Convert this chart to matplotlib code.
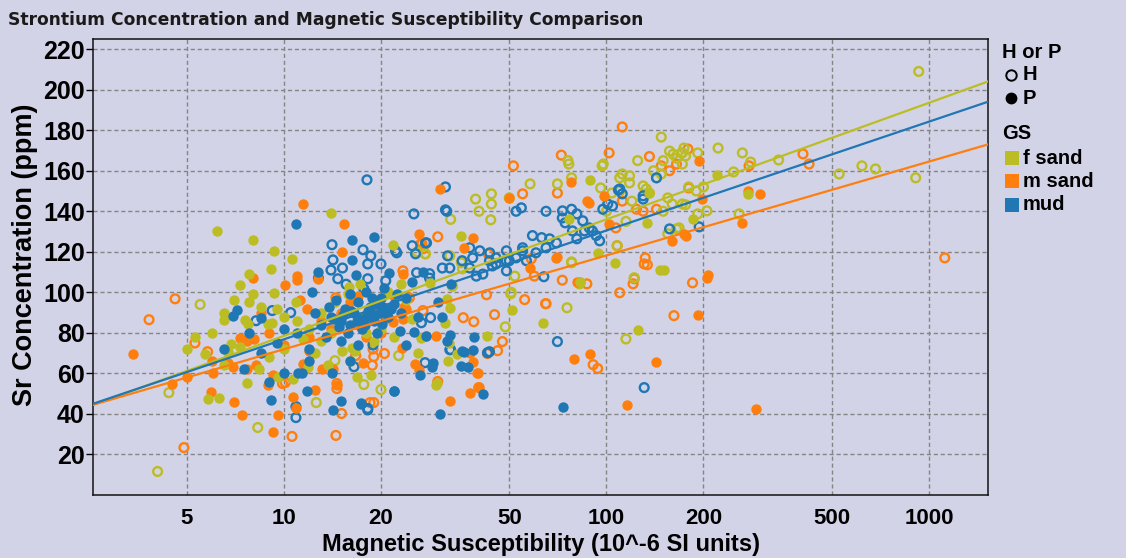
import matplotlib.pyplot as plt
import numpy as np
from matplotlib.lines import Line2D
from matplotlib.ticker import NullLocator

BG = "#d3d3e8"
OLIVE = "#bcbd22"
ORANGE = "#ff7f0e"
BLUE = "#1f77b4"

# --- samples: magnetic susceptibility (10^-6 SI) vs Sr (ppm) ---------------
# mud, P
mud_p_x = [10.9, 16.3, 19.1, 16.3, 16.7, 21.2, 12.2, 7.15, 6.95, 8.5, 9.1, 11.8, 14.2, 15, 17.3,
           21.9, 14.1, 11.1, 11.4, 19.4, 20.2, 20.9, 22.9, 32, 35.7, 38.8, 41.4, 30.4, 35.5, 28.8,
           26.5, 38.5, 17.4, 73.6, 37.3, 36.3, 32.7, 29, 22, 27.5, 25.3,
           14, 15, 15.5, 16, 16.5, 17, 17.5, 18, 18.5, 19, 19.5, 20, 21, 22, 23, 24, 13, 12.5,
           14.5, 16, 18, 13.5, 15, 17, 12, 11, 10, 9.5, 8.5, 7.8, 7.5, 10, 12, 16, 24, 26, 30,
           31, 25, 27, 33, 12.8, 9, 6.5, 14.8, 16.8, 18.8, 20.5, 22.5, 15.8, 13.8,
           15.2, 16.2, 17.2, 18.2, 19.2, 20.3, 21.5, 14.3, 17.8, 19.8]
mud_p_y = [133.8, 126, 127.4, 116, 108.7, 109.7, 100.3, 91.4, 88.5, 87.5, 47, 51.5, 41.7, 46.6, 45,
           51.5, 60.4, 60, 60.4, 94.4, 84.5, 91, 81, 76, 71.2, 78, 50, 40.2, 63.8, 63.3,
           59, 71.7, 45.6, 43.6, 63.3, 70.7, 79.1, 65.3, 51.5, 78.6, 80.6,
           88, 86, 92, 84, 90, 95, 82, 88, 93, 86, 80, 97, 88, 94, 90, 97, 84, 90,
           96, 99, 100, 78, 76, 74, 72, 80, 82, 75, 70, 80, 62, 60, 66, 66, 74, 88, 95,
           88, 105, 110, 104, 110, 56, 72, 83, 86, 97, 102, 99, 80, 93,
           89, 91, 87, 91, 89, 93, 92, 87, 84, 90]

# mud, H
mud_h_x = [18.1, 14.1, 17.6, 18.6, 14.2, 18.2, 20, 15.2, 14, 12.8, 14.7, 18.2, 20.7, 15.6, 17.7,
           9.2, 10.5, 8.2, 10.9, 10.9, 18.2, 16.5, 18.9, 25.3, 32, 27.7, 32.2, 40.5, 43.5, 45.5,
           49, 22.4, 25.8, 28.3, 31, 35.7, 37.7, 39.5, 41.4, 44.3, 48.9, 52.5, 55, 27.4, 32.7,
           42.8, 18.2, 31.7, 31.7, 143, 130, 109, 73.1, 78, 81, 84.5, 88.5, 93, 97.5, 101,
           104.5, 74.5, 78.5, 81, 85.5, 90.5, 95.3, 59, 63, 66.7, 70, 55, 60.5, 65, 56.5,
           50, 49, 45.5, 43.4, 38.5, 37.7, 32.7, 28.3, 27.5, 25, 22.2, 25.6, 52.5, 54.5,
           65, 73, 110, 112, 130, 157, 70.5, 131, 32.9, 43.4, 28.5, 26.7, 194, 64]
mud_h_y = [155.5, 123.5, 121, 118, 116, 114, 114, 112, 111, 107, 106.7, 106.7, 105.7, 104, 101.8,
           91, 90, 86, 43.6, 38.2, 42, 63.3, 74, 138.7, 140, 124.4, 118, 120.5, 119.5, 117,
           120.5, 119.5, 109.7, 109.2, 112, 115.6, 112, 108, 109, 113, 115.6, 117, 120.5, 65.3, 71.7,
           70.2, 42.7, 152, 140.7, 156.5, 147.6, 150.5, 140.2, 141, 138.7, 135.3, 131.8, 128, 141, 143.6,
           142.6, 134.3, 130.3, 126.4, 130.3, 130.3, 125.4, 128, 127, 126.4, 124.4, 122, 119.5, 122, 115.6,
           115.6, 110.6, 114, 115.6, 117, 122, 112, 107, 124.4, 123, 120.5, 119, 140, 141.7,
           140, 136.7, 151, 148.6, 146, 131.3, 75.7, 53, 71.7, 70.7, 87.5, 85, 132.3, 107.7]

# f sand, P
fsand_p_x = [14, 6.2, 8, 21.8, 9.3, 10.6, 9.1, 7.8, 7.3, 15.9, 17.2, 8, 9.3, 15.8, 7.8, 10.9, 14.4,
             6.5, 7.6, 7.75, 8.9, 9.2, 5.7, 5.8, 6.3, 6.85, 7.3, 6.7, 8.4, 7.7, 10.7, 9.6, 16.8,
             18.6, 13.7, 16, 15.1, 16.3, 16.6, 11.9, 35.5, 28.3, 32, 32.7, 25, 26.6, 42.5, 32.5,
             34.4, 29.8, 32.2, 89, 136, 134, 151, 106, 94, 76.8, 83, 51, 63.5, 125, 31.7, 26,
             29.6, 147, 220, 275, 185, 5, 5.3, 6, 6.5, 7, 8.5, 9.5, 10, 11, 12, 13, 11.5, 12.5,
             13, 14, 18, 19, 20, 22, 24, 17, 21, 23, 10, 9, 6.5]
fsand_p_y = [139, 130.5, 126, 123.5, 120.5, 116.6, 111.6, 109, 103.7, 102.8, 104, 99.3, 99.8, 99.3, 95, 95, 95,
             86.5, 86.5, 84.5, 84.5, 85, 69.7, 47.6, 48, 74.7, 73, 70.7, 62, 55.5, 57, 58.4, 58,
             59, 64, 66.3, 71, 72.7, 71.2, 63, 128, 104.7, 96.8, 92.4, 87, 77.6, 78.6, 75,
             69.8, 55.5, 66.3, 155.5, 149, 134, 111, 114.6, 119.5, 136, 105, 91.4, 85, 81.5, 85, 70.2,
             54.5, 111.1, 157.9, 148.6, 136.3, 72, 78, 80, 90, 96, 93, 92, 88, 86, 82, 90, 77, 70,
             76, 80, 80, 76, 82, 78, 96, 88, 100, 104, 72, 68, 64]

# f sand, H
fsand_h_x = [5.5, 4.4, 4.06, 8.3, 12.6, 17.7, 20, 14.4, 18.9, 32.9, 25.9, 27.4, 32.7, 35.8, 33.3,
             50.7, 48.6, 148, 76, 76.5, 97, 97.8, 78, 58, 70.5, 39.3, 44, 44, 40.3, 43.8, 50,
             96, 104, 110, 118, 112, 110, 118, 130, 133, 136, 143, 148, 157, 161, 165, 172, 171,
             174, 120, 155, 160, 172, 78, 83, 108, 27.5, 35.5, 52, 78, 50.5, 75.5, 115, 22.7,
             165, 155, 122, 82.5, 222, 264, 280, 342, 248, 527, 620, 683, 910, 258, 205, 192,
             176, 192, 172, 176, 168, 930, 140, 150, 125, 180, 190, 100, 115, 150, 200]
fsand_h_y = [94, 50.5, 11.6, 33.3, 45.6, 54.5, 52, 66.3, 75, 136, 120, 119, 118, 111.6, 103,
             100, 83, 176.6, 165, 163.3, 162.4, 163.3, 156.5, 153.5, 153.5, 146, 148.6, 143.6, 140, 135.8, 146.6,
             151.5, 149, 150, 157.5, 158.4, 156.5, 154, 152.5, 151, 149, 156.5, 158.4, 169.7, 168.2, 166.2, 163.3, 168.8,
             171.2, 145, 146.6, 143.6, 143.6, 115, 104.7, 123, 119, 114.6, 108, 114.6, 99.3, 92.4, 77, 68.8,
             131.3, 128.9, 107.2, 104.2, 171.2, 168.8, 164.3, 165.3, 159.4, 158.4, 162.4, 160.9, 156.5, 138.7, 140.2, 138.7,
             143.2, 168.8, 168.8, 167.3, 131.8, 209, 160, 165, 165, 152, 150, 140, 135, 140, 152]

# m sand, P
msand_p_x = [11.5, 15.4, 15.1, 12.8, 11, 11, 8, 10.1, 11.2, 11.8, 3.4, 6.0, 6.05, 5.95, 7.3, 7.7, 8.1,
             6.7, 6.95, 7.7, 8.2, 8.9, 7.4, 9.6, 9.25, 10.7, 10.9, 14.6, 17.6, 14.2, 13.1, 12, 11.5,
             11.6, 9.25, 26.2, 38.5, 36.3, 23.5, 20.9, 21.8, 29.6, 27.5, 37.7, 38.7, 39.6, 39.9, 40.2,
             37.7, 32.7, 30.4, 50, 77.5, 87, 88.5, 98, 102, 160, 177, 70, 81, 23.4, 70.5, 58, 89,
             79.5, 143, 116, 23.2, 23.4, 26.2, 25.5, 207, 205, 192, 290, 194, 198, 275, 300, 264,
             174, 13, 14, 15, 16, 17, 18, 19, 20, 12, 10, 9, 8.5, 5, 4.5, 7, 12.5, 17, 22, 24]
msand_p_y = [143.6, 133.8, 120, 106.7, 108, 106, 107, 103.7, 96.4, 92, 69.7, 66.3, 60, 51, 77.6, 76, 77,
             65, 63, 62, 64.3, 54.5, 39.7, 39.7, 31.3, 48.6, 42.7, 54.5, 65.3, 62, 62, 71.2, 64.8,
             62, 59, 129, 127, 122, 93, 87.5, 85.5, 78.6, 78.6, 70.2, 65.8, 60, 60.4, 53.5,
             50.5, 46.6, 151, 146.6, 154.5, 145, 144, 147.6, 133.8, 125.4, 127.9, 117, 105, 109, 117.5, 112, 69.8,
             67.3, 65.8, 44.6, 72.7, 86.9, 61.9, 64.8, 108.7, 107.2, 89, 42.2, 164.8, 146.1, 150.1, 148.6, 134.3,
             128.9, 86, 82, 90, 95, 84, 78, 92, 80, 78, 74, 80, 90, 58, 55, 46, 52, 98, 98, 92]

# m sand, H
msand_h_x = [4.6, 14.5, 3.82, 5.3, 5.8, 4.9, 9.9, 10.1, 10.6, 14.5, 15.1, 14.6, 18.5, 19, 18.8, 19,
             16.7, 20.5, 18.9, 30, 26.8, 27, 24.5, 27, 42.5, 45, 47.6, 46, 42.8, 55.8, 64.8, 36,
             38.8, 14.6, 112, 72.5, 51.5, 102, 70.5, 55, 136, 148, 157, 165, 124, 130, 143, 112,
             107, 108, 132, 134, 122, 121, 58.5, 59.8, 73, 87, 26.6, 23.4, 43, 110, 162, 91, 94,
             30, 40.2, 185, 131, 65, 407, 425, 179, 277, 180, 1120]
msand_h_y = [96.8, 97.3, 86.5, 75, 70.7, 23.4, 55, 55.5, 28.9, 29.4, 40.2, 52.5, 45.6, 45.6, 64, 68.3,
             68.8, 69.8, 72, 127.4, 124, 121.5, 97.3, 91, 98.8, 89, 75.7, 71.2, 69.8, 96.4, 94.4, 87.5,
             85.5, 55, 181.6, 167.7, 162.4, 168.8, 149, 148.6, 167, 162.4, 160, 163.3, 141, 140, 141, 145,
             131.8, 123, 117, 113.6, 106.7, 104.2, 116.6, 108, 106, 104.2, 124, 110.6, 119, 99.8, 88.5, 64.3, 62.4,
             56, 53, 104.7, 114, 94.4, 168.3, 163.3, 170.7, 162.4, 151.5, 117]

# log-linear trend lines: Sr = a + b * log10(MS)
fit_groups = ["f sand", "m sand", "mud"]
fit_intercept = [21.0, 25.6, 23.1]
fit_slope = [57.5, 46.3, 53.7]

x_ticks = [5, 10, 20, 50, 100, 200, 500, 1000]
y_ticks = list(range(20, 221, 20))

colors = {"f sand": OLIVE, "m sand": ORANGE, "mud": BLUE}

plt.rcParams["font.family"] = ["Liberation Sans", "DejaVu Sans"]

fig = plt.figure(figsize=(11.26, 5.58), dpi=100, facecolor=BG)
ax = fig.add_axes([93 / 1126, 63 / 558, 895 / 1126, 456 / 558])
ax.set_facecolor(BG)

xlim = (2.56, 1525)
ax.set_xscale("log")
ax.set_xlim(*xlim)
ax.set_ylim(0, 225)

ax.grid(True, color="#858585", linestyle=(0, (3, 2)), linewidth=1.0)
ax.set_axisbelow(True)

open_kw = dict(s=40, facecolors="none", linewidths=1.7, zorder=2)
fill_kw = dict(s=56, linewidths=0, zorder=2)

ax.scatter(msand_h_x, msand_h_y, edgecolors=ORANGE, **open_kw)
ax.scatter(fsand_h_x, fsand_h_y, edgecolors=OLIVE, **open_kw)
ax.scatter(mud_h_x, mud_h_y, edgecolors=BLUE, **open_kw)
ax.scatter(msand_p_x, msand_p_y, color=ORANGE, **fill_kw)
ax.scatter(fsand_p_x, fsand_p_y, color=OLIVE, **fill_kw)
ax.scatter(mud_p_x, mud_p_y, color=BLUE, **fill_kw)

xs = np.logspace(np.log10(xlim[0]), np.log10(xlim[1]), 50)
for grp, a, b in zip(fit_groups, fit_intercept, fit_slope):
    ax.plot(xs, a + b * np.log10(xs), color=colors[grp], linewidth=1.6, zorder=3)

ax.set_xticks(x_ticks)
ax.set_xticklabels([str(v) for v in x_ticks])
ax.xaxis.set_minor_locator(NullLocator())
ax.set_yticks(y_ticks)
ax.tick_params(axis="x", length=0, pad=9, labelsize=16)
ax.tick_params(axis="y", length=5, width=1, pad=1, labelsize=18)
for lbl in ax.get_xticklabels() + ax.get_yticklabels():
    lbl.set_fontweight("bold")

for sp in ax.spines.values():
    sp.set_color("#111111")
    sp.set_linewidth(1.1)

fig.text(8 / 1126, 1 - 20 / 558,
         "Strontium Concentration and Magnetic Susceptibility Comparison",
         family="DejaVu Sans", fontweight="bold", fontsize=12.3, color="#1a1a1a",
         ha="left", va="center")
fig.text(541 / 1126, 1 - 544 / 558, "Magnetic Susceptibility (10^-6 SI units)",
         fontsize=17, fontweight="bold", ha="center", va="center")
fig.text(25 / 1126, 1 - 255 / 558, "Sr Concentration (ppm)", rotation=90,
         fontsize=19.5, fontweight="bold", ha="center", va="center")

# legends drawn in figure pixels
def fx(px):
    return px / 1126


def fy(py):
    return 1 - py / 558


leg_font = dict(fontsize=14.5, fontweight="bold", va="center", ha="left")
fig.text(fx(1002), fy(52), "H or P", **leg_font)
fig.add_artist(Line2D([fx(1011)], [fy(75)], transform=fig.transFigure, marker="o",
                      markersize=7.5, markerfacecolor="none", markeredgecolor="black",
                      markeredgewidth=1.4, linestyle=""))
fig.text(fx(1023), fy(75), "H", **leg_font)
fig.add_artist(Line2D([fx(1011)], [fy(98)], transform=fig.transFigure, marker="o",
                      markersize=8.5, markerfacecolor="black", markeredgewidth=0, linestyle=""))
fig.text(fx(1023), fy(98), "P", **leg_font)

fig.text(fx(1002), fy(134), "GS", **leg_font)
for i, grp in enumerate(fit_groups):
    yy = 158 + i * 23.5
    fig.add_artist(Line2D([fx(1011.5)], [fy(yy)], transform=fig.transFigure, marker="s",
                          markersize=9.5, markerfacecolor=colors[grp], markeredgewidth=0,
                          linestyle=""))
    fig.text(fx(1023), fy(yy), grp, **leg_font)

fig.savefig("out.png", dpi=100, facecolor=BG)
